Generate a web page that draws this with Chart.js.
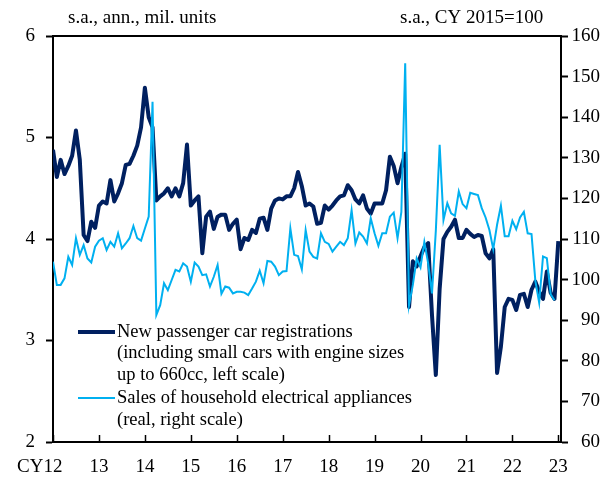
<!DOCTYPE html>
<html>
<head>
<meta charset="utf-8">
<script src="https://cdn.jsdelivr.net/npm/chart.js@4/dist/chart.umd.min.js"></script>
<style>
html,body{margin:0;padding:0;background:#fff;}
canvas{display:block;}
</style>
</head>
<body>
<canvas id="c" width="614" height="480"></canvas>
<script>
// Monthly data, Jan 2012 .. Jan 2023
const carRegistrations = [
  4.88, 4.61, 4.78, 4.64, 4.72, 4.82, 5.07, 4.78, 4.04, 3.98, 4.17, 4.11,
  4.33, 4.37, 4.35, 4.58, 4.37, 4.45, 4.55, 4.73, 4.74, 4.82, 4.92, 5.10,
  5.49, 5.20, 5.10, 4.38, 4.42, 4.45, 4.50, 4.42, 4.50, 4.42, 4.55, 4.93,
  4.33, 4.38, 4.42, 3.86, 4.22, 4.27, 4.10, 4.22, 4.24, 4.24, 4.09, 4.15,
  4.19, 3.90, 4.01, 3.99, 4.09, 4.06, 4.20, 4.21, 4.09, 4.30, 4.38, 4.40,
  4.39, 4.42, 4.42, 4.50, 4.66, 4.52, 4.33, 4.35, 4.32, 4.15, 4.16, 4.33,
  4.29, 4.33, 4.38, 4.42, 4.43, 4.53, 4.48, 4.39, 4.35, 4.43, 4.30, 4.25,
  4.35, 4.35, 4.35, 4.48, 4.81, 4.72, 4.55, 4.71, 4.84, 3.33, 3.78, 3.73,
  3.83, 3.92, 3.96, 3.25, 2.66, 3.51, 4.00, 4.07, 4.12, 4.19, 4.01, 4.01,
  4.09, 4.05, 4.02, 4.04, 4.03, 3.86, 3.81, 3.90, 2.68, 2.94, 3.33, 3.41,
  3.40, 3.30, 3.45, 3.46, 3.33, 3.50, 3.58, 3.48, 3.41, 3.68, 3.47, 3.41,
  3.98
];
const applianceSales = [
  104.4, 98.7, 98.7, 100.3, 105.6, 103.6, 110.2, 106.1, 108.5, 105.2, 104.2, 108.1,
  109.6, 110.2, 107.3, 109.3, 108.1, 111.4, 107.7, 108.9, 110.2, 113.2, 110.2, 109.6,
  112.6, 115.5, 143.8, 91.3, 93.7, 99.1, 97.4, 99.9, 102.4, 102.0, 104.0, 103.2,
  99.5, 104.2, 103.2, 101.1, 101.3, 98.3, 100.7, 103.6, 96.5, 98.3, 98.0, 96.6,
  97.0, 97.0, 96.8, 96.2, 97.8, 99.5, 102.2, 99.1, 104.6, 104.4, 103.2, 101.1,
  102.0, 102.1, 112.6, 106.1, 105.8, 102.5, 112.2, 106.9, 105.6, 105.2, 111.4, 109.3,
  108.8, 106.9, 108.1, 109.3, 108.5, 110.2, 117.1, 108.9, 111.6, 110.6, 108.9, 115.1,
  111.4, 108.3, 111.4, 111.4, 115.5, 116.5, 110.2, 116.7, 153.3, 93.7, 98.7, 105.2,
  103.0, 109.3, 104.0, 96.6, 112.0, 133.2, 114.7, 118.8, 116.3, 115.7, 121.7, 118.6,
  117.6, 121.4, 121.1, 120.8, 117.6, 115.3, 112.2, 107.5, 113.5, 118.2, 110.7, 110.7,
  114.5, 112.4, 115.3, 116.7, 111.4, 111.2, 99.7, 94.3, 105.7, 105.3, 96.4, 94.9
];
const yearLabels = ['12','13','14','15','16','17','18','19','20','21','22','23'];
const leftTicks = [2, 3, 4, 5, 6];
const rightTicks = [60, 70, 80, 90, 100, 110, 120, 130, 140, 150, 160];

const NAVY = '#002060';
const LIGHT = '#00B0F0';
const FONT = "'Liberation Serif', 'Times New Roman', serif";

const decor = {
  id: 'decor',
  afterDraw(chart) {
    const {ctx, chartArea: a, scales} = chart;
    const x = scales.x;
    ctx.save();
    // top frame line
    ctx.strokeStyle = '#000';
    ctx.lineWidth = 2;
    ctx.beginPath();
    ctx.moveTo(a.left, a.top);
    ctx.lineTo(a.right, a.top);
    ctx.stroke();
    // inward x ticks at each January
    ctx.lineWidth = 1.5;
    yearLabels.forEach((_, i) => {
      const px = Math.round(x.getPixelForValue(i * 12)) + 0.5;
      ctx.beginPath();
      ctx.moveTo(px, a.bottom);
      ctx.lineTo(px, a.bottom - 7);
      ctx.stroke();
    });
    // "CY" prefix
    ctx.fillStyle = '#000';
    ctx.font = '19px ' + FONT;
    ctx.textBaseline = 'middle';
    ctx.textAlign = 'right';
    const w12 = ctx.measureText(yearLabels[0]).width;
    ctx.fillText('CY', x.getPixelForValue(0) - w12 / 2, 467);
    // unit captions
    ctx.font = '19px ' + FONT;
    ctx.textAlign = 'left';
    ctx.fillText('s.a., ann., mil. units', 68, 18);
    ctx.fillText('s.a., CY 2015=100', 400, 18);
    // legend
    ctx.strokeStyle = NAVY;
    ctx.lineWidth = 4;
    ctx.beginPath(); ctx.moveTo(78, 332); ctx.lineTo(115, 332); ctx.stroke();
    ctx.strokeStyle = LIGHT;
    ctx.lineWidth = 2;
    ctx.beginPath(); ctx.moveTo(78, 398); ctx.lineTo(115, 398); ctx.stroke();
    ctx.font = '18.5px ' + FONT;
    ctx.fillText('New passenger car registrations', 117, 332);
    ctx.fillText('(including small cars with engine sizes', 117, 353);
    ctx.fillText('up to 660cc, left scale)', 117, 375);
    ctx.fillText('Sales of household electrical appliances', 117, 398);
    ctx.fillText('(real, right scale)', 117, 420);
    ctx.restore();
  }
};

new Chart(document.getElementById('c'), {
  type: 'line',
  data: {
    datasets: [
      {
        label: 'New passenger car registrations',
        data: carRegistrations.map((v, i) => ({x: i, y: v})),
        yAxisID: 'yL',
        borderColor: NAVY,
        borderWidth: 4,
        pointRadius: 0,
        tension: 0,
        order: 2,
        borderJoinStyle: 'round'
      },
      {
        label: 'Sales of household electrical appliances',
        data: applianceSales.map((v, i) => ({x: i, y: v})),
        yAxisID: 'yR',
        borderColor: LIGHT,
        borderWidth: 2,
        pointRadius: 0,
        tension: 0,
        order: 1
      }
    ]
  },
  options: {
    responsive: false,
    animation: false,
    devicePixelRatio: 1,
    layout: {padding: {top: 36, right: 14, left: 0, bottom: 0}},
    plugins: {legend: {display: false}, tooltip: {enabled: false}},
    scales: {
      x: {
        type: 'linear',
        min: 0,
        max: 132.7,
        afterBuildTicks: s => { s.ticks = yearLabels.map((_, i) => ({value: i * 12})); },
        afterFit: s => { s.height = 38; },
        ticks: {
          callback: (v, i) => yearLabels[i],
          color: '#000',
          font: {family: FONT, size: 19},
          padding: 14,
          maxRotation: 0,
          autoSkip: false
        },
        grid: {display: true, drawOnChartArea: false, drawTicks: false},
        border: {display: true, color: '#000', width: 2}
      },
      yL: {
        position: 'left',
        min: 2,
        max: 6,
        afterBuildTicks: s => { s.ticks = leftTicks.map(v => ({value: v})); },
        afterFit: s => { s.width = 53; },
        ticks: {color: '#000', font: {family: FONT, size: 19}, padding: 11},
        grid: {drawOnChartArea: false, drawTicks: true, tickLength: 7, tickColor: '#000', tickWidth: 2},
        border: {display: true, color: '#000', width: 2}
      },
      yR: {
        position: 'right',
        min: 60,
        max: 160,
        afterBuildTicks: s => { s.ticks = rightTicks.map(v => ({value: v})); },
        afterFit: s => { s.width = 39; },
        ticks: {color: '#000', font: {family: FONT, size: 19}, padding: 4, crossAlign: 'far'},
        grid: {drawOnChartArea: false, drawTicks: true, tickLength: 7, tickColor: '#000', tickWidth: 2},
        border: {display: true, color: '#000', width: 2}
      }
    }
  },
  plugins: [decor]
});
</script>
</body>
</html>
